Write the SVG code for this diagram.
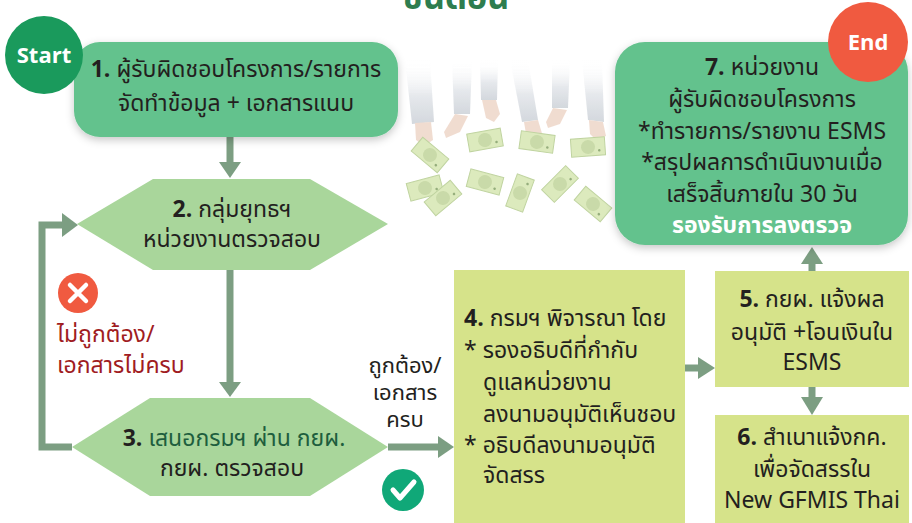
<svg xmlns="http://www.w3.org/2000/svg" width="912" height="523" viewBox="0 0 912 523">
  <style>
    .t { font-family: 'Noto Sans Thai', 'Noto Sans', 'DejaVu Sans', sans-serif; font-size: 23px; fill: #231f20; }
    .c { text-anchor: middle; }
    .b { font-weight: bold; }
    .round { fill: #64c28d; }
    .hex { fill: #a9d69b; }
    .box { fill: #d6e38a; }
    .conn { stroke: #7c9e82; stroke-width: 7; fill: none; }
    .head { fill: #7c9e82; }
    .badge { font-family: 'Open Sans', 'Noto Sans', sans-serif; font-weight: bold; font-size: 22px; fill: #ffffff; text-anchor: middle; }
    .bill { fill: #d9e8b6; stroke: #b9cf96; stroke-width: 1; }
    .billc { fill: #c4d7a0; }
    .leg { fill: url(#legGrad); }
    .hand { fill: #efd9cc; }
  </style>
  <defs>
    <filter id="shadow" x="-10%" y="-10%" width="120%" height="130%">
      <feDropShadow dx="0" dy="3" stdDeviation="4" flood-color="#000000" flood-opacity="0.22"/>
    </filter>
    <linearGradient id="legGrad" x1="0" y1="0" x2="0" y2="1">
      <stop offset="0" stop-color="#ffffff" stop-opacity="0"/>
      <stop offset="0.55" stop-color="#e4e7eb"/>
      <stop offset="1" stop-color="#cfd4da"/>
    </linearGradient>
    <g id="billShape">
      <rect x="-17" y="-9" width="34" height="18" class="bill"/>
      <circle cx="0" cy="0" r="7" class="billc"/>
      <circle cx="11" cy="4" r="1.3" fill="#8aa56e"/>
    </g>
  </defs>

  <!-- page heading, running off the top edge -->
  <text x="456" y="9" class="t c b" style="font-size:34px; fill:#2e7d4f;">ขั้นตอน</text>

  <!-- decorative scene: legs, hands and falling banknotes -->
  <g id="scene" opacity="0.9">
    <polygon class="leg" points="405,60 430,60 434,122 412,124"/>
    <polygon class="leg" points="452,60 472,60 470,114 454,114"/>
    <polygon class="leg" points="480,60 498,60 497,100 481,100"/>
    <polygon class="leg" points="510,60 528,60 538,120 522,122"/>
    <polygon class="leg" points="552,60 570,60 568,108 552,108"/>
    <polygon class="leg" points="582,60 602,60 604,122 588,120"/>
    <path class="hand" d="M415,123 L431,122 L433,140 L424,146 L416,140 Z"/>
    <path class="hand" d="M455,114 L468,116 L460,132 L446,138 L444,132 Z"/>
    <path class="hand" d="M482,100 L496,100 L500,114 L494,122 L486,118 Z"/>
    <path class="hand" d="M524,122 L538,120 L544,140 L536,150 L528,146 Z"/>
    <path class="hand" d="M553,108 L567,110 L560,124 L548,128 L546,122 Z"/>
    <path class="hand" d="M589,120 L603,122 L606,136 L596,140 L590,134 Z"/>
    <use href="#billShape" transform="translate(430,155) rotate(40)"/>
    <use href="#billShape" transform="translate(485,140) rotate(-10)"/>
    <use href="#billShape" transform="translate(537,142) rotate(8)"/>
    <use href="#billShape" transform="translate(588,147) rotate(-4)"/>
    <use href="#billShape" transform="translate(425,188) rotate(-15)"/>
    <use href="#billShape" transform="translate(443,198) rotate(-40)"/>
    <use href="#billShape" transform="translate(485,182) rotate(15)"/>
    <use href="#billShape" transform="translate(520,193) rotate(-70)"/>
    <use href="#billShape" transform="translate(560,184) rotate(-45)"/>
    <use href="#billShape" transform="translate(593,204) rotate(40)"/>
  </g>

  <!-- connectors -->
  <g id="connectors">
    <line class="conn" x1="230" y1="137" x2="230" y2="164"/>
    <polygon class="head" points="219,162 241,162 230,178"/>
    <line class="conn" x1="230" y1="270" x2="230" y2="384"/>
    <polygon class="head" points="219,382 241,382 230,397"/>
    <polyline class="conn" points="72,447 42,447 42,225 64,225"/>
    <polygon class="head" points="62,213 62,237 78,225"/>
    <line class="conn" x1="388" y1="447" x2="440" y2="447"/>
    <polygon class="head" points="438,436 438,458 454,447"/>
    <line class="conn" x1="685" y1="368" x2="700" y2="368"/>
    <polygon class="head" points="698,357 698,379 715,368"/>
    <line class="conn" x1="812" y1="387" x2="812" y2="399"/>
    <polygon class="head" points="801,397 823,397 812,415"/>
    <line class="conn" x1="812" y1="271" x2="812" y2="262"/>
    <polygon class="head" points="801,264 823,264 812,247"/>
  </g>

  <!-- condition labels and icons -->
  <g id="reject">
    <circle cx="78" cy="293" r="20" fill="#f05a40"/>
    <path d="M70,285 L86,301 M86,285 L70,301" stroke="#ffffff" stroke-width="4.5" stroke-linecap="round"/>
    <text class="t" x="57" y="342" style="fill:#a01c22;">ไม่ถูกต้อง/</text>
    <text class="t" x="57" y="373" style="fill:#a01c22;">เอกสารไม่ครบ</text>
  </g>
  <g id="accept">
    <circle cx="403" cy="490" r="21" fill="#10a878"/>
    <path d="M393,490 L400,498 L414,482" stroke="#ffffff" stroke-width="5" fill="none" stroke-linecap="round" stroke-linejoin="round"/>
    <text class="t c" x="405" y="373" style="font-size:22px;">ถูกต้อง/</text>
    <text class="t c" x="405" y="400" style="font-size:22px;">เอกสาร</text>
    <text class="t c" x="405" y="427" style="font-size:22px;">ครบ</text>
  </g>

  <!-- step 1 -->
  <g id="node1">
    <rect x="74" y="42" width="324" height="95" rx="26" class="round" filter="url(#shadow)"/>
    <text class="t c" x="236" y="77"><tspan class="b">1.</tspan> ผู้รับผิดชอบโครงการ/รายการ</text>
    <text class="t c" x="236" y="111">จัดทำข้อมูล + เอกสารแนบ</text>
  </g>
  <g id="start">
    <circle cx="44" cy="55" r="39" fill="#1a9a5c"/>
    <text class="badge" x="44" y="63">Start</text>
  </g>

  <!-- step 2 -->
  <g id="node2">
    <polygon class="hex" points="77,224 153,179 310,179 388,224 310,270 153,270"/>
    <text class="t c" x="232" y="217"><tspan class="b">2.</tspan> กลุ่มยุทธฯ</text>
    <text class="t c" x="232" y="247">หน่วยงานตรวจสอบ</text>
  </g>

  <!-- step 3 -->
  <g id="node3">
    <polygon class="hex" points="72,447 150,398 310,398 388,447 310,496 150,496"/>
    <text class="t c" x="234" y="446"><tspan class="b">3.</tspan> <tspan style="fill:#1e5e3e;">เสนอกรมฯ ผ่าน กยผ.</tspan></text>
    <text class="t c" x="232" y="476">กยผ. ตรวจสอบ</text>
  </g>

  <!-- step 4 -->
  <g id="node4">
    <rect x="454" y="270" width="231" height="253" class="box"/>
    <text class="t" x="464" y="326"><tspan class="b">4.</tspan> กรมฯ พิจารณา โดย</text>
    <text class="t" x="464" y="358">* รองอธิบดีที่กำกับ</text>
    <text class="t" x="483" y="390">ดูแลหน่วยงาน</text>
    <text class="t" x="483" y="422">ลงนามอนุมัติเห็นชอบ</text>
    <text class="t" x="464" y="453">* อธิบดีลงนามอนุมัติ</text>
    <text class="t" x="483" y="483">จัดสรร</text>
  </g>

  <!-- step 5 -->
  <g id="node5">
    <rect x="715" y="271" width="194" height="116" class="box"/>
    <text class="t c" x="812" y="307"><tspan class="b">5.</tspan> กยผ. แจ้งผล</text>
    <text class="t c" x="812" y="340">อนุมัติ +โอนเงินใน</text>
    <text class="t c" x="812" y="370">ESMS</text>
  </g>

  <!-- step 6 -->
  <g id="node6">
    <rect x="715" y="415" width="194" height="108" class="box"/>
    <text class="t c" x="812" y="445"><tspan class="b">6.</tspan> สำเนาแจ้งกค.</text>
    <text class="t c" x="812" y="477">เพื่อจัดสรรใน</text>
    <text class="t c" x="812" y="508">New GFMIS Thai</text>
  </g>

  <!-- step 7 -->
  <g id="node7">
    <rect x="615" y="42" width="293" height="203" rx="30" class="round" filter="url(#shadow)"/>
    <text class="t c" x="762" y="75"><tspan class="b">7.</tspan> หน่วยงาน</text>
    <text class="t c" x="762" y="107">ผู้รับผิดชอบโครงการ</text>
    <text class="t c" x="762" y="139">*ทำรายการ/รายงาน ESMS</text>
    <text class="t c" x="762" y="170">*สรุปผลการดำเนินงานเมื่อ</text>
    <text class="t c" x="762" y="202">เสร็จสิ้นภายใน 30 วัน</text>
    <text class="t c b" x="762" y="233" style="fill:#ffffff;">รองรับการลงตรวจ</text>
  </g>
  <g id="end">
    <circle cx="868" cy="42" r="40" fill="#f05a40"/>
    <text class="badge" x="868" y="50">End</text>
  </g>
</svg>
